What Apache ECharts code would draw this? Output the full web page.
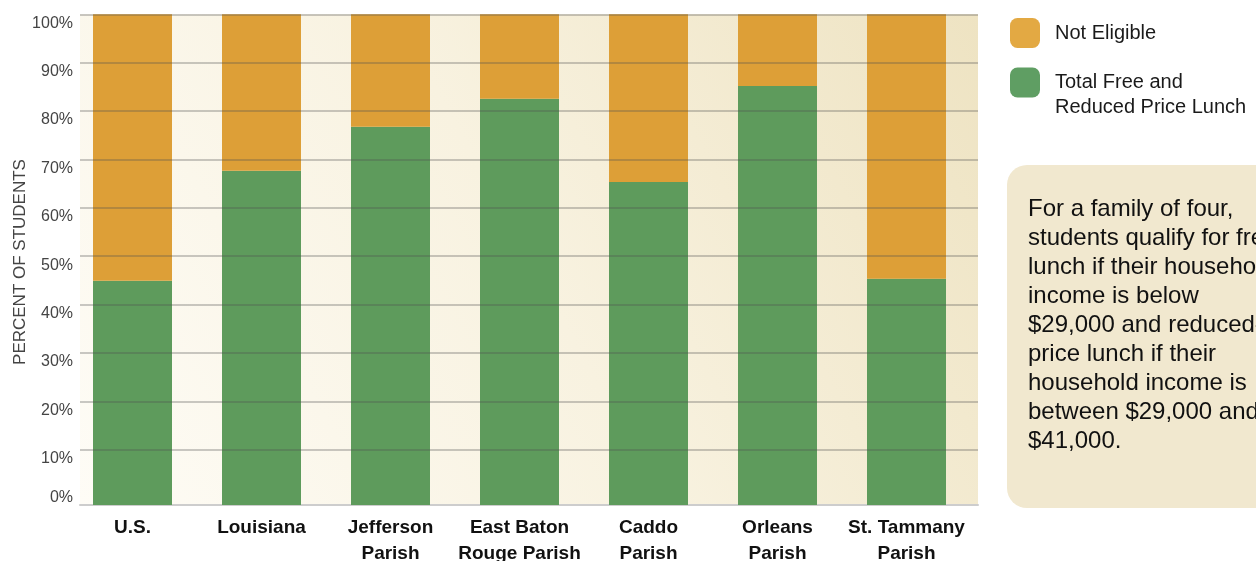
<!DOCTYPE html>
<html>
<head>
<meta charset="utf-8">
<script src="https://cdn.jsdelivr.net/npm/echarts@6/dist/echarts.min.js"></script>
<style>
html,body{margin:0;padding:0;background:#fff;}
#chart{width:1256px;height:561px;}
</style>
</head>
<body>
<div id="chart"></div>
<script>
const categories = ['U.S.', 'Louisiana', 'Jefferson\nParish', 'East Baton\nRouge Parish', 'Caddo\nParish', 'Orleans\nParish', 'St. Tammany\nParish'];
const freeReduced = [45.7, 68.1, 77.1, 82.8, 65.8, 85.4, 46.1];
const notEligible = [54.3, 31.9, 22.9, 17.2, 34.2, 14.6, 53.9];
const seriesNames = ['Total Free and Reduced Price Lunch', 'Not Eligible'];
const noteText = 'For a family of four,\nstudents qualify for free\nlunch if their household\nincome is below\n$29,000 and reduced-\nprice lunch if their\nhousehold income is\nbetween $29,000 and\n$41,000.';

const SANS = "'Liberation Sans', Arial, Helvetica, sans-serif";
const GREEN = '#5e9b5c';
const ORANGE = '#dd9f37';

const legendText = { fontFamily: SANS, fontSize: 20, color: '#1a1a1a', lineHeight: 25, padding: [0, 0, 0, 10] };
const noBounds = { containLabel: false, outerBoundsMode: 'none' };

const chart = echarts.init(document.getElementById('chart'));
chart.setOption({
  animation: false,
  backgroundColor: '#ffffff',
  grid: [
    Object.assign({ left: 80, top: 14.3, width: 898, height: 490.7, show: true, borderWidth: 0,
      backgroundColor: { type: 'linear', x: 0, y: 1, x2: 1, y2: 0,
        colorStops: [{ offset: 0, color: '#fefcf6' }, { offset: 0.5, color: '#f8f2e0' }, { offset: 1, color: '#eee3c2' }] } }, noBounds),
    Object.assign({ left: 68, top: 14.3, width: 903, height: 490.7 }, noBounds),
    Object.assign({ left: 80, top: 14.3, width: 898, height: 483.8 }, noBounds),
    Object.assign({ left: 80, top: 22, width: 898, height: 480 }, noBounds)
  ],
  legend: [
    { orient: 'vertical', left: 1010, top: 18, padding: 0, itemWidth: 30, itemHeight: 30,
      icon: 'roundRect', selectedMode: false, textStyle: legendText,
      data: [{ name: seriesNames[1], itemStyle: { color: '#e3a943' } }] },
    { orient: 'vertical', left: 1010, top: 45, padding: 0, itemWidth: 30, itemHeight: 30,
      icon: 'roundRect', selectedMode: false, textStyle: legendText,
      formatter: function () { return '\nTotal Free and\nReduced Price Lunch'; },
      data: [{ name: seriesNames[0], itemStyle: { color: '#5f9e63' } }] }
  ],
  xAxis: [
    { gridIndex: 0, type: 'value', min: 0, max: 1, position: 'bottom',
      axisLine: { show: true, lineStyle: { color: '#cdcdcd', width: 2 } },
      axisTick: { show: false }, axisLabel: { show: false }, splitLine: { show: false } },
    { gridIndex: 1, type: 'category', data: categories,
      axisLine: { show: false }, axisTick: { show: false },
      axisLabel: { margin: 10, fontFamily: SANS, fontWeight: 'bold', fontSize: 19, color: '#111', lineHeight: 26, interval: 0 } },
    { gridIndex: 2, type: 'value', show: false },
    { gridIndex: 3, type: 'value', show: false }
  ],
  yAxis: [
    { gridIndex: 0, type: 'value', show: false },
    { gridIndex: 1, type: 'value', min: 0, max: 100, show: false },
    { gridIndex: 2, type: 'value', min: 0, max: 100, interval: 10, z: 5,
      axisLine: { show: false }, axisTick: { show: false },
      axisLabel: { margin: 7,
        formatter: function (v) { return v === 0 ? '{z|0%}' : '{v|' + v + '%}'; },
        rich: {
          v: { fontFamily: SANS, fontSize: 16, color: '#444', padding: [18, 0, 0, 0] },
          z: { fontFamily: SANS, fontSize: 16, color: '#444', padding: [0, 0, 2, 0] }
        } },
      splitLine: { show: true, showMinLine: false, lineStyle: { color: 'rgba(80,80,80,0.3)', width: 2 } } },
    { gridIndex: 3, type: 'value', min: 0, max: 100,
      axisLine: { show: false }, axisTick: { show: false }, splitLine: { show: false }, axisLabel: { show: false },
      name: 'PERCENT OF STUDENTS', nameLocation: 'middle', nameGap: 51, nameRotate: 90,
      nameTextStyle: { fontFamily: SANS, fontSize: 17, color: '#444' } }
  ],
  series: [
    { name: seriesNames[0], type: 'bar', stack: 'total', xAxisIndex: 1, yAxisIndex: 1,
      barWidth: 79, data: freeReduced, itemStyle: { color: GREEN } },
    { name: seriesNames[1], type: 'bar', stack: 'total', xAxisIndex: 1, yAxisIndex: 1,
      barWidth: 79, data: notEligible, itemStyle: { color: ORANGE } }
  ],
  graphic: [
    { type: 'rect', left: 1007, top: 165, shape: { width: 300, height: 343, r: 20 }, style: { fill: '#f1e8cf' } },
    { type: 'text', left: 1028, top: 195, style: { text: noteText, font: '24px ' + SANS, fill: '#111', lineHeight: 29 } }
  ]
});
</script>
</body>
</html>
